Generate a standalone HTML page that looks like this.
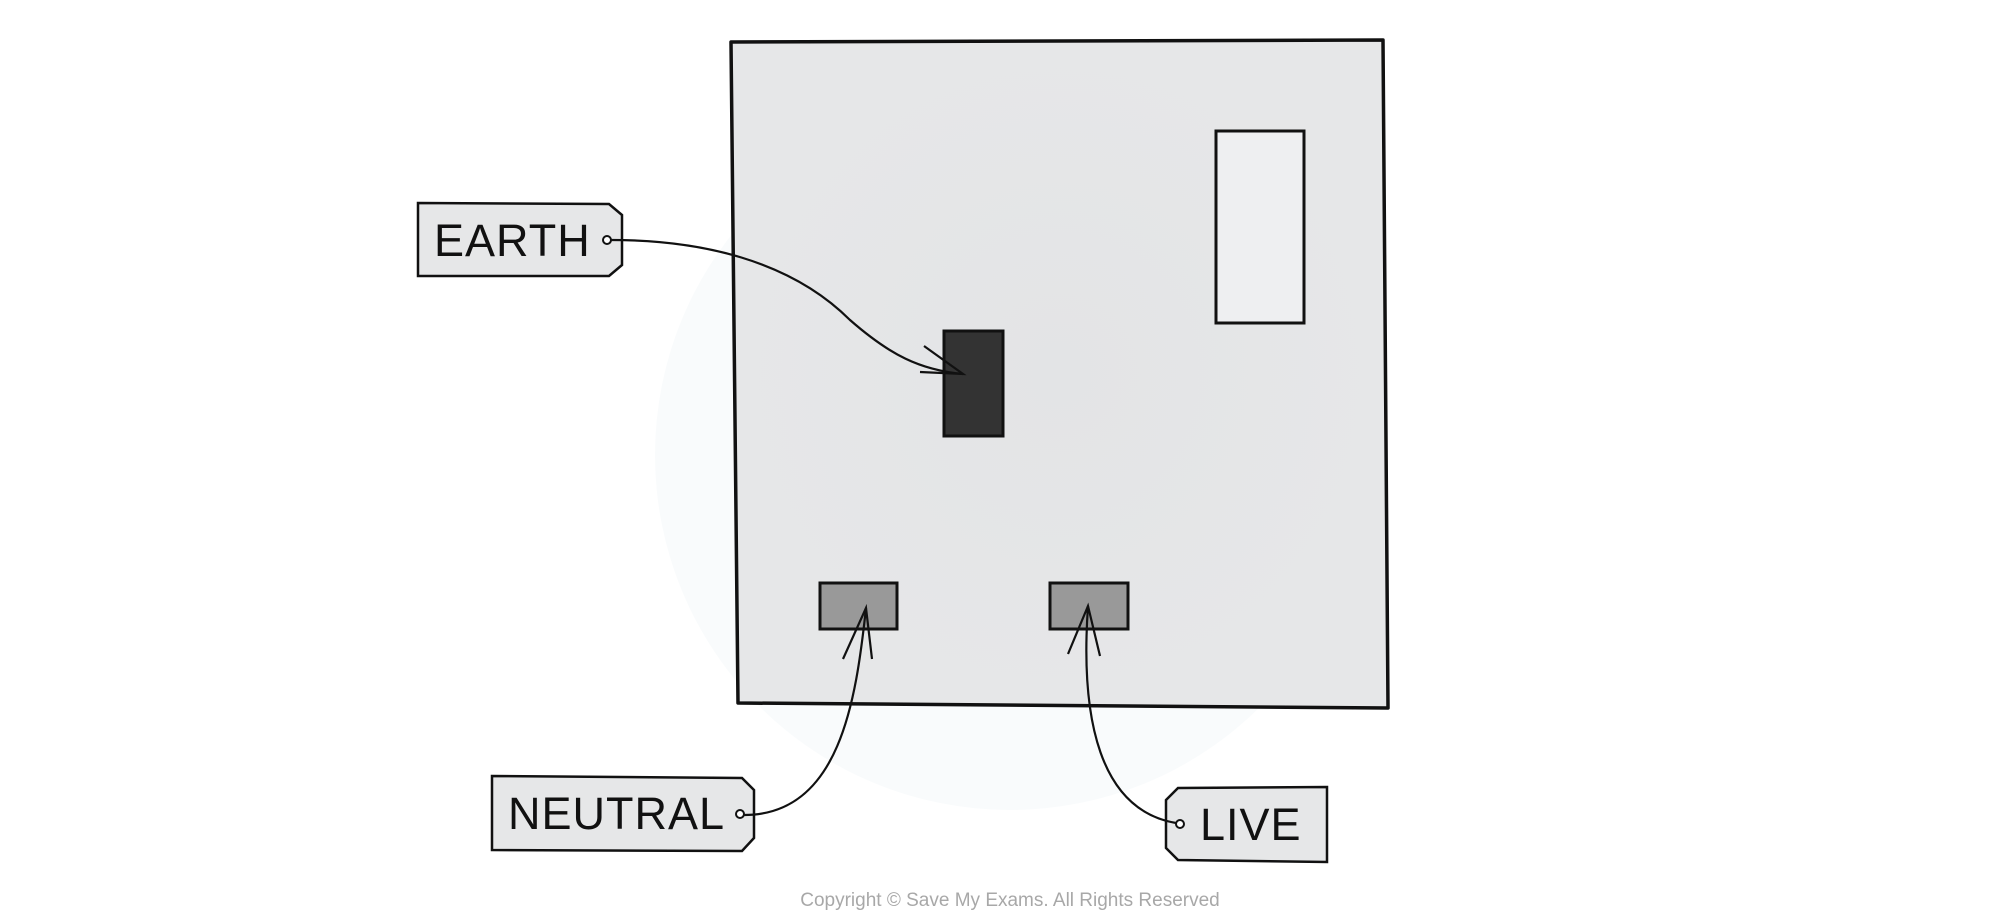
<!DOCTYPE html>
<html><head><meta charset="utf-8"><style>
html,body{margin:0;padding:0;background:#fff;}
svg{display:block;}
</style></head><body>
<svg width="2000" height="920" viewBox="0 0 2000 920" xmlns="http://www.w3.org/2000/svg">
<defs>
<radialGradient id="g" cx="50%" cy="50%" r="50%">
<stop offset="0" stop-color="#e3e4e6"/><stop offset="1" stop-color="#e6e7e8"/>
</radialGradient>
</defs>
<circle cx="1010" cy="455" r="355" fill="#f9fbfc"/>
<path d="M731,42 L1383,40 L1388,708 L738,703 Z" fill="url(#g)" stroke="#111" stroke-width="3.5" stroke-linejoin="round"/>
<rect x="1216" y="131" width="88" height="192" fill="#eeeff1" stroke="#111" stroke-width="3"/>
<rect x="944" y="331" width="59" height="105" fill="#333" stroke="#111" stroke-width="3"/>
<rect x="820" y="583" width="77" height="46" fill="#999" stroke="#111" stroke-width="3"/>
<rect x="1050" y="583" width="78" height="46" fill="#999" stroke="#111" stroke-width="3"/>

<g font-family="Liberation Sans, sans-serif" font-size="45" fill="#111" letter-spacing="1">
<path d="M418,203 L609,204 L622,215 L622,265 L609,276 L418,276 Z" fill="#e6e7e8" stroke="#111" stroke-width="2.5"/>
<text x="434" y="256">EARTH</text>
<path d="M492,776 L742,778 L754,790 L754,838 L742,851 L492,850 Z" fill="#e6e7e8" stroke="#111" stroke-width="2.5"/>
<text x="508" y="829">NEUTRAL</text>
<path d="M1178,788 L1327,787 L1327,862 L1178,860 L1166,848 L1166,800 Z" fill="#e6e7e8" stroke="#111" stroke-width="2.5"/>
<text x="1200" y="840">LIVE</text>
</g>

<circle cx="607" cy="240" r="4" fill="#fff" stroke="#111" stroke-width="2"/>
<path d="M611,240 C700,240 790,260 850,320 C890,355 920,370 963,374" fill="none" stroke="#111" stroke-width="2.2"/>
<path d="M924,346 L963,374 L920,372" fill="none" stroke="#111" stroke-width="2.2"/>

<circle cx="740" cy="814" r="4" fill="#fff" stroke="#111" stroke-width="2"/>
<path d="M744,815 C840,815 856,700 866,608" fill="none" stroke="#111" stroke-width="2.2"/>
<path d="M843,659 L866,608 L872,659" fill="none" stroke="#111" stroke-width="2.2"/>

<circle cx="1180" cy="824" r="4" fill="#fff" stroke="#111" stroke-width="2"/>
<path d="M1176,823 C1100,810 1080,720 1088,606" fill="none" stroke="#111" stroke-width="2.2"/>
<path d="M1068,654 L1088,606 L1100,656" fill="none" stroke="#111" stroke-width="2.2"/>

<text x="1010" y="906" text-anchor="middle" font-family="Liberation Sans, sans-serif" font-size="19" fill="#a8a8a8">Copyright © Save My Exams. All Rights Reserved</text>
</svg>
</body></html>
